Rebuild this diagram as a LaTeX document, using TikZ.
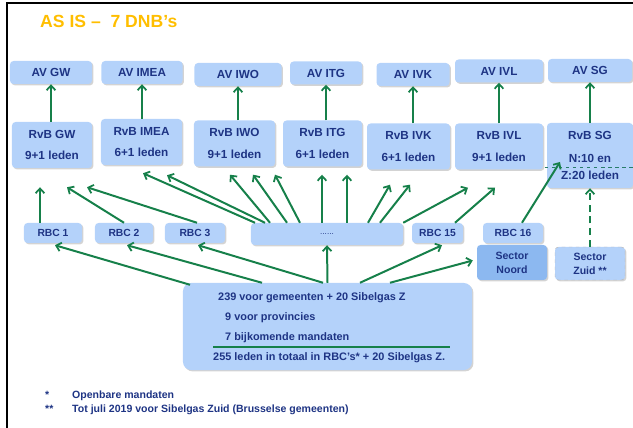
\documentclass[tikz,border=0pt]{standalone}
\usepackage{fontspec}
\setmainfont{Liberation Sans}
\usetikzlibrary{positioning, calc, shadows, arrows.meta}
\definecolor{boxblue}{RGB}{180,210,250}
\definecolor{noordblue}{RGB}{140,184,240}
\definecolor{navy}{RGB}{30,52,132}
\definecolor{arrowgreen}{RGB}{22,128,74}
\definecolor{titleorange}{RGB}{255,190,0}
\definecolor{dashteal}{RGB}{40,125,105}

\tikzset{
  box/.style={rectangle, rounded corners=3pt, fill=boxblue, text=navy, align=center, inner sep=1pt,
    font=\bfseries\fontsize{10}{12}\selectfont,
    drop shadow={shadow xshift=1.2pt, shadow yshift=-1.2pt, opacity=0.35, fill=black!50}},
  avbox/.style={box, minimum height=0.69cm},
  rvbbox/.style={box, minimum height=1.38cm},
  rbcbox/.style={box, minimum height=0.6cm, font=\bfseries\fontsize{8.8}{10}\selectfont},
  sectorbox/.style={box, font=\bfseries\fontsize{9}{11}\selectfont},
  arr/.style={-{Straight Barb[length=4pt, width=7.5pt, line width=1.5pt]}, line width=1.7pt, draw=arrowgreen},
  totals/.style={anchor=base west, text=navy, inner sep=0pt, font=\bfseries\fontsize{9.3}{11}\selectfont},
  note/.style={anchor=base west, text=navy, inner sep=0pt, font=\bfseries\fontsize{9}{11}\selectfont},
}

\begin{document}
\begin{tikzpicture}[x=0.03cm, y=-0.03cm]
  \useasboundingbox (0,0) rectangle (633,428);
  \draw[line width=1.2pt] (7,428) -- (7,3) -- (633,3);

  \node[anchor=west, inner sep=0pt, text=titleorange, font=\bfseries\fontsize{15}{17}\selectfont] (title) at (40,21) {AS IS --\ \ 7 DNB's};

  % algemene vergaderingen
  \node[avbox, minimum width=2.46cm] (avgw) at (51,72.5) {AV GW};
  \node[avbox, minimum width=2.43cm] (avimea) at (142,72.5) {AV IMEA};
  \node[avbox, minimum width=2.61cm] (aviwo) at (238,74.5) {AV IWO};
  \node[avbox, minimum width=2.16cm] (avitg) at (326,73) {AV ITG};
  \node[avbox, minimum width=2.19cm] (avivk) at (413,74.5) {AV IVK};
  \node[avbox, minimum width=2.64cm] (avivl) at (499,71) {AV IVL};
  \node[avbox, minimum width=2.52cm] (avsg) at (590,70.5) {AV SG};

  % raden van bestuur
  \node[rvbbox, minimum width=2.4cm] (rvbgw) at (52,145) {RvB GW\\[6pt]9+1 leden};
  \node[rvbbox, minimum width=2.43cm] (rvbimea) at (141.5,142) {RvB IMEA\\[6pt]6+1 leden};
  \node[rvbbox, minimum width=2.43cm] (rvbiwo) at (234.5,143.5) {RvB IWO\\[6pt]9+1 leden};
  \node[rvbbox, minimum width=2.37cm] (rvbitg) at (322.5,143.5) {RvB ITG\\[6pt]6+1 leden};
  \node[rvbbox, minimum width=2.49cm] (rvbivk) at (408.5,146.5) {RvB IVK\\[6pt]6+1 leden};
  \node[rvbbox, minimum width=2.64cm] (rvbivl) at (499,146.5) {RvB IVL\\[6pt]9+1 leden};
  \node[rvbbox, minimum width=2.58cm, minimum height=1.95cm] (rvbsg) at (590,155.5) {RvB SG\\[7.5pt]N:10 en\\[3pt]Z:20 leden};
  \draw[dashteal, dashed, line width=0.8pt] ($(rvbsg.west)+(-2,11.5)$) -- ($(rvbsg.east)+(0,11.5)$);

  % regionale bestuurscomites
  \node[rbcbox, minimum width=1.74cm] (rbc1) at (53,233) {RBC 1};
  \node[rbcbox, minimum width=1.74cm] (rbc2) at (124,233) {RBC 2};
  \node[rbcbox, minimum width=1.8cm] (rbc3) at (195,233) {RBC 3};
  \node[rbcbox, minimum width=4.56cm, minimum height=0.66cm, font=\fontsize{7}{8}\selectfont] (dots) at (327,234) {......};
  \node[rbcbox, minimum width=1.53cm] (rbc15) at (437.5,233) {RBC 15};
  \node[rbcbox, minimum width=1.8cm] (rbc16) at (513,233) {RBC 16};
  \node[sectorbox, fill=noordblue, minimum width=2.1cm, minimum height=1.05cm] (noord) at (512,262.5) {Sector\\[1pt]Noord};
  \node[sectorbox, draw=gray!55, dashed, minimum width=2.1cm, minimum height=0.99cm] (zuid) at (590,263.5) {Sector\\[1pt]Zuid **};

  % mandaten
  \node[box, rounded corners=7pt, minimum width=8.67cm, minimum height=2.61cm] (big) at (327.5,326.5) {};
  \node[totals] (gem) at (218,300.5) {239 voor gemeenten + 20 Sibelgas Z};
  \node[totals] (prov) at (225,320.5) {9 voor provincies};
  \node[totals] (bijk) at (225,340.5) {7 bijkomende mandaten};
  \draw[arrowgreen, line width=1.2pt] (213,347) -- (450,347);
  \node[totals] (tot) at (213,360.5) {255 leden in totaal in RBC's* + 20 Sibelgas Z.};

  \node[note] (star1) at (45,399) {*};
  \node[note] (star2) at (45,413) {**};
  \node[note] (fn1) at (72,399) {Openbare mandaten};
  \node[note] (fn2) at (72,413) {Tot juli 2019 voor Sibelgas Zuid (Brusselse gemeenten)};

  % RvB -> AV
  \foreach \n in {gw,imea,iwo,itg,ivk,ivl,sg}
    \draw[arr] (av\n.south |- rvb\n.north) -- (av\n.south);

  % RBC -> RvB
  \draw[arr] ($(rbc1.north)+(-13,0)$) -- ($(rvbgw.south)+(-12,19)$);
  \draw[arr] (rbc2.north) -- ($(rvbgw.south)+(15,19)$);
  \draw[arr] ($(rbc3.north)+(2,0)$) -- ($(rvbgw.south)+(35,19)$);
  \draw[arr] ($(dots.north)+(-72,0)$) -- ($(rvbimea.south)+(1.5,8)$);
  \draw[arr] ($(dots.north)+(-62,0)$) -- ($(rvbimea.south)+(25.5,10)$);
  \draw[arr] ($(dots.north)+(-57,0)$) -- ($(rvbiwo.south)+(-4.5,8)$);
  \draw[arr] ($(dots.north)+(-40,0)$) -- ($(rvbiwo.south)+(18.5,8)$);
  \draw[arr] ($(dots.north)+(-27,0)$) -- ($(rvbiwo.south)+(40.5,8)$);
  \draw[arr] ($(dots.north)+(-5,0)$) -- ($(rvbitg.south)+(-0.5,8)$);
  \draw[arr] ($(dots.north)+(20,0)$) -- ($(rvbitg.south)+(24.5,8)$);
  \draw[arr] ($(dots.north)+(41,0)$) -- ($(rvbivk.south)+(-18.5,15)$);
  \draw[arr] ($(dots.north)+(53,0)$) -- ($(rvbivk.south)+(1.5,15)$);
  \draw[arr] (dots.north east) -- ($(rvbivl.south)+(-31,18)$);
  \draw[arr] ($(rbc15.north)+(17.5,0)$) -- ($(rvbivl.south)+(-4,18)$);
  \draw[arr] ($(rbc16.north)+(9,0)$) -- ($(rvbsg.center)+(-30,6.5)$);
  \draw[arr, dash pattern=on 6pt off 4pt] (zuid.north) -- (rvbsg.south);

  % mandaten -> RBC
  \draw[arr] ($(big.north)+(-137.5,2)$) -- ($(rbc1.south)+(2,2)$);
  \draw[arr] ($(big.north)+(-65.5,0)$) -- ($(rbc2.south)+(3,2)$);
  \draw[arr] ($(big.north)+(-4.5,0)$) -- ($(rbc3.south)+(3,2)$);
  \draw[arr] (big.north) -- (dots.south);
  \draw[arr] ($(big.north)+(32.5,0)$) -- ($(rbc15.south)+(4.5,2)$);
  \draw[arr] ($(big.north)+(62.5,0)$) -- ($(noord.west)+(-4,-2)$);
\end{tikzpicture}
\end{document}
